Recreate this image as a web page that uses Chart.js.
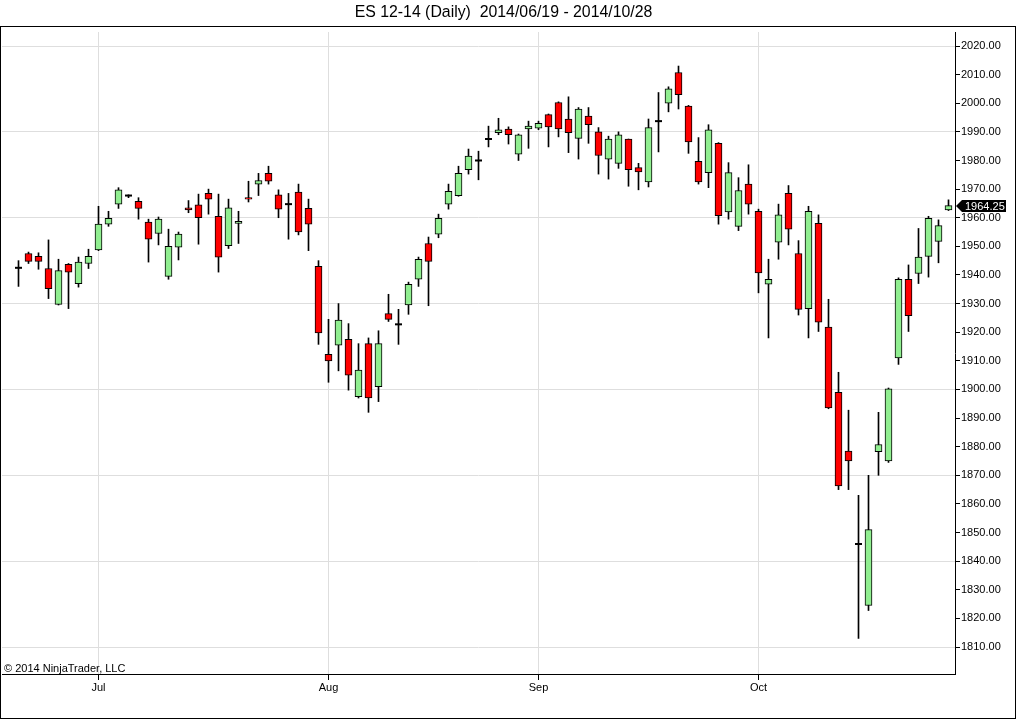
<!DOCTYPE html>
<html>
<head>
<meta charset="utf-8">
<script src="https://cdn.jsdelivr.net/npm/chart.js@4.4.1/dist/chart.umd.min.js"></script>
<style>
  html, body { margin: 0; padding: 0; background: #fff; overflow: hidden; }
  #wrap { position: relative; width: 1016px; height: 720px; }
  #c { display: block; position: absolute; left: 0; top: 0; }
  #frame { position: absolute; left: 0; top: 26px; width: 1014px; height: 691px; border: 1px solid #000; pointer-events: none; }
  #copy { position: absolute; left: 4px; top: 662px; font: 11px "Liberation Sans", Arial, sans-serif; color: #000; line-height: 13px; }
</style>
</head>
<body>
<div id="wrap">
  <canvas id="c" width="1016" height="720"></canvas>
  <div id="frame"></div>
  <div id="copy">© 2014 NinjaTrader, LLC</div>
</div>
<script>
// ---- data (ES 12-14 daily) ----
const dates = [
  '2014-06-19','2014-06-20','2014-06-23','2014-06-24','2014-06-25','2014-06-26','2014-06-27','2014-06-30',
  '2014-07-01','2014-07-02','2014-07-03','2014-07-04','2014-07-07','2014-07-08','2014-07-09','2014-07-10','2014-07-11',
  '2014-07-14','2014-07-15','2014-07-16','2014-07-17','2014-07-18','2014-07-21','2014-07-22','2014-07-23','2014-07-24',
  '2014-07-25','2014-07-28','2014-07-29','2014-07-30','2014-07-31',
  '2014-08-01','2014-08-04','2014-08-05','2014-08-06','2014-08-07','2014-08-08','2014-08-11','2014-08-12','2014-08-13',
  '2014-08-14','2014-08-15','2014-08-18','2014-08-19','2014-08-20','2014-08-21','2014-08-22','2014-08-25','2014-08-26',
  '2014-08-27','2014-08-28','2014-08-29',
  '2014-09-01','2014-09-02','2014-09-03','2014-09-04','2014-09-05','2014-09-08','2014-09-09','2014-09-10','2014-09-11',
  '2014-09-12','2014-09-15','2014-09-16','2014-09-17','2014-09-18','2014-09-19','2014-09-22','2014-09-23','2014-09-24',
  '2014-09-25','2014-09-26','2014-09-29','2014-09-30',
  '2014-10-01','2014-10-02','2014-10-03','2014-10-06','2014-10-07','2014-10-08','2014-10-09','2014-10-10','2014-10-13',
  '2014-10-14','2014-10-15','2014-10-16','2014-10-17','2014-10-20','2014-10-21','2014-10-22','2014-10-23','2014-10-24',
  '2014-10-27','2014-10-28'
];
const opens = [
  1942.5,1947.5,1946.5,1942.25,1929.75,1943.75,1937,1944,
  1948.75,1957.75,1964.75,1967.75,1965.75,1958.5,1954.5,1939.5,1949.75,
  1963.5,1964.5,1968.5,1960.5,1950.25,1958,1967,1971.75,1975.5,
  1968,1964.75,1969,1963.25,1943,
  1912.25,1915.5,1917.5,1897.5,1916,1901,1926.5,1922.75,1929.5,
  1938.5,1951,1954.25,1964.75,1967.75,1976.75,1980,1987.5,1989.75,
  1991,1982.25,1991,
  1991.25,1996,2000.25,1994.5,1987.75,1995.5,1990,1980.5,1979,
  1987.5,1977.5,1972.5,1993.75,2000,2010.75,1999,1979.75,1975.75,
  1986,1962,1957,1971.75,
  1962.25,1936.75,1951.5,1968.5,1947.5,1928.25,1958,1921.75,1899,
  1878.5,1846,1824.5,1878.25,1875,1911,1938.5,1940.5,1946.5,
  1951.75,1962.75
];
const highs = [
  1945,1948,1947.75,1952.25,1945.5,1944,1946.25,1949,
  1964,1962.25,1970.5,1968,1967,1959.5,1960.25,1956,1955,
  1966,1968.25,1970,1968.25,1966.5,1962.25,1972.75,1975.5,1978,
  1969.75,1968.5,1971.75,1966.5,1945,
  1924.5,1930,1923,1916,1918,1920.5,1933.25,1928,1937.5,
  1946.25,1953.25,1961.25,1971.75,1978,1984,1983.25,1992,1994.75,
  1991.75,1989.25,1993.75,
  1993.75,1996.25,2000.5,2002.25,1998.5,1998.5,1991.5,1988.5,1990,
  1987.5,1979,1994.5,2003.75,2005.75,2013,1999.25,1988,1992.5,
  1986.25,1979.25,1974,1978.5,
  1963,1945.5,1964.75,1971.25,1952,1964,1961,1931.5,1906,
  1892.75,1863,1870,1892,1900.5,1939,1943.5,1956.25,1960.5,
  1959.25,1966.25
];
const lows = [
  1936,1944,1942,1931.75,1929.5,1928.25,1935.75,1942.25,
  1948.5,1957,1963.25,1967,1959.5,1944.5,1950.5,1938.5,1945.25,
  1961.75,1950.75,1961.25,1941,1949.25,1951,1965.5,1967.75,1971.75,
  1960,1952.5,1954,1948.5,1915.75,
  1902.5,1906.5,1899.75,1897,1892,1895.75,1923.75,1915.75,1926.25,
  1936,1929.25,1953,1963,1967.5,1975.25,1973.25,1984.75,1989,
  1985.75,1980,1984.25,
  1990.75,1984.75,1988.25,1982.75,1980.5,1986,1975.25,1973.5,1977.25,
  1971,1969.75,1970.75,1983,1997,1998,1982.5,1971.75,1970.5,
  1957.75,1959.5,1955.5,1961.25,
  1933.75,1918,1945.5,1950.5,1926,1918,1920.25,1893.25,1865,
  1865,1813,1822.75,1870,1874.5,1908.75,1920.25,1937,1939.25,
  1944.25,1962.5
];
const closes = [
  1942.5,1944.75,1944.75,1935.25,1941.5,1941,1944.5,1946.5,
  1957.75,1959.75,1969.75,1967.75,1963.25,1952.5,1959.5,1950,1954.25,
  1962.75,1960,1966.5,1946.25,1963.5,1958.75,1966.5,1973,1972.75,
  1963,1964.75,1955,1957.75,1919.75,
  1910,1924.25,1905,1906.75,1897,1916,1924.5,1922.75,1936.75,
  1945.5,1944.75,1959.75,1969.25,1975.5,1981.5,1980,1987.5,1990.75,
  1989,1989,1992,
  1993,1991.75,1991,1989.75,1998,1992.5,1981.75,1987.5,1989,
  1976.75,1976,1991.5,1993.75,2005,2003,1986.5,1972.5,1990.75,
  1960.75,1975.75,1969.5,1964.75,
  1940.75,1938.5,1961,1956,1928,1962.25,1923.5,1893.5,1866.25,
  1875,1846,1851,1880.75,1900.25,1938.5,1925.75,1946.25,1959.75,
  1957.25,1964.25
];
const monthNames = ['Jan','Feb','Mar','Apr','May','Jun','Jul','Aug','Sep','Oct','Nov','Dec'];
const priceTicks = [1810,1820,1830,1840,1850,1860,1870,1880,1890,1900,1910,1920,1930,1940,1950,1960,1970,1980,1990,2000,2010,2020];
const chartTitle = 'ES 12-14 (Daily)  2014/06/19 - 2014/10/28';

// ---- derived structures ----
const monthStarts = [];
dates.forEach((d, i) => {
  if (i > 0 && d.slice(5, 7) !== dates[i - 1].slice(5, 7)) monthStarts.push(i);
});
const bodies = [], wicks = [], dojis = [];
dates.forEach((d, i) => {
  wicks.push({ x: i, y: [lows[i], highs[i]] });
  if (opens[i] === closes[i]) dojis.push({ x: i, y: closes[i] });
  else bodies.push({ x: i, y: [opens[i], closes[i]], up: closes[i] > opens[i] });
});

const FONT = '"Liberation Sans", Arial, sans-serif';
Chart.defaults.color = '#000';
Chart.defaults.font.family = FONT;

const lastPriceTag = {
  id: 'lastPriceTag',
  afterDraw(chart) {
    const ys = chart.scales.y;
    const v = closes[closes.length - 1];
    const y = Math.round(ys.getPixelForValue(v));
    const ctx = chart.ctx;
    const x0 = chart.chartArea.right + 1;
    ctx.save();
    ctx.fillStyle = '#000';
    ctx.beginPath();
    ctx.moveTo(x0, y);
    ctx.lineTo(x0 + 6, y - 6);
    ctx.lineTo(x0 + 50, y - 6);
    ctx.lineTo(x0 + 50, y + 6);
    ctx.lineTo(x0 + 6, y + 6);
    ctx.closePath();
    ctx.fill();
    ctx.fillStyle = '#fff';
    ctx.font = '11px ' + FONT;
    ctx.textBaseline = 'middle';
    ctx.textAlign = 'left';
    ctx.fillText(v.toFixed(2), x0 + 9, y + 0.5);
    ctx.restore();
  }
};

new Chart(document.getElementById('c'), {
  type: 'bar',
  data: {
    datasets: [
      { type: 'bar', data: bodies, grouped: false, barThickness: 7, borderWidth: 1, borderSkipped: false, borderColor: '#000',
        backgroundColor: (ctx) => (ctx.raw && ctx.raw.up) ? '#90ee90' : '#ff0000' },
      { type: 'line', data: dojis, showLine: false, pointStyle: 'line', pointRadius: 3.5, pointHoverRadius: 3.5,
        pointBorderWidth: 2, pointBorderColor: '#000', borderColor: '#000' },
      { type: 'bar', data: wicks, grouped: false, barThickness: 1, borderWidth: 0, backgroundColor: '#000' }
    ]
  },
  options: {
    responsive: false,
    animation: false,
    devicePixelRatio: 1,
    layout: { autoPadding: false, padding: { left: 2, right: 11, top: 0, bottom: 0 } },
    plugins: {
      legend: { display: false },
      tooltip: { enabled: false },
      title: { display: true, text: chartTitle, color: '#000',
        font: { family: FONT, size: 15.85, weight: 'normal', lineHeight: 1.2 }, padding: { top: 3.5, bottom: 9.5 } }
    },
    scales: {
      x: {
        type: 'linear', min: -1.65, max: 93.65, offset: false,
        afterBuildTicks: (scale) => { scale.ticks = monthStarts.map(i => ({ value: i })); },
        afterFit: (scale) => { scale.height = 46; scale.paddingLeft = 0; scale.paddingRight = 0; },
        ticks: { autoSkip: false, maxRotation: 0, padding: 1, font: { size: 11, family: FONT }, color: '#000',
          callback: (v) => monthNames[parseInt(dates[v].slice(5, 7), 10) - 1] },
        grid: { color: '#dedede', tickColor: '#000', tickLength: 6, offset: false },
        border: { color: '#000', width: 1 }
      },
      y: {
        type: 'linear', position: 'right', min: 1800.57, max: 2024.89,
        afterBuildTicks: (scale) => { scale.ticks = priceTicks.map(v => ({ value: v })); },
        afterFit: (scale) => { scale.width = 50; scale.paddingTop = 0; scale.paddingBottom = 0; },
        ticks: { padding: 1, font: { size: 11, family: FONT }, color: '#000', callback: (v) => Number(v).toFixed(2) },
        grid: { color: (ctx) => (ctx.tick && (ctx.tick.value - 1810) % 30 === 0) ? '#dedede' : 'rgba(0,0,0,0)',
          tickColor: '#000', tickLength: 5 },
        border: { color: '#000', width: 1 }
      }
    }
  },
  plugins: [lastPriceTag]
});
</script>
</body>
</html>
